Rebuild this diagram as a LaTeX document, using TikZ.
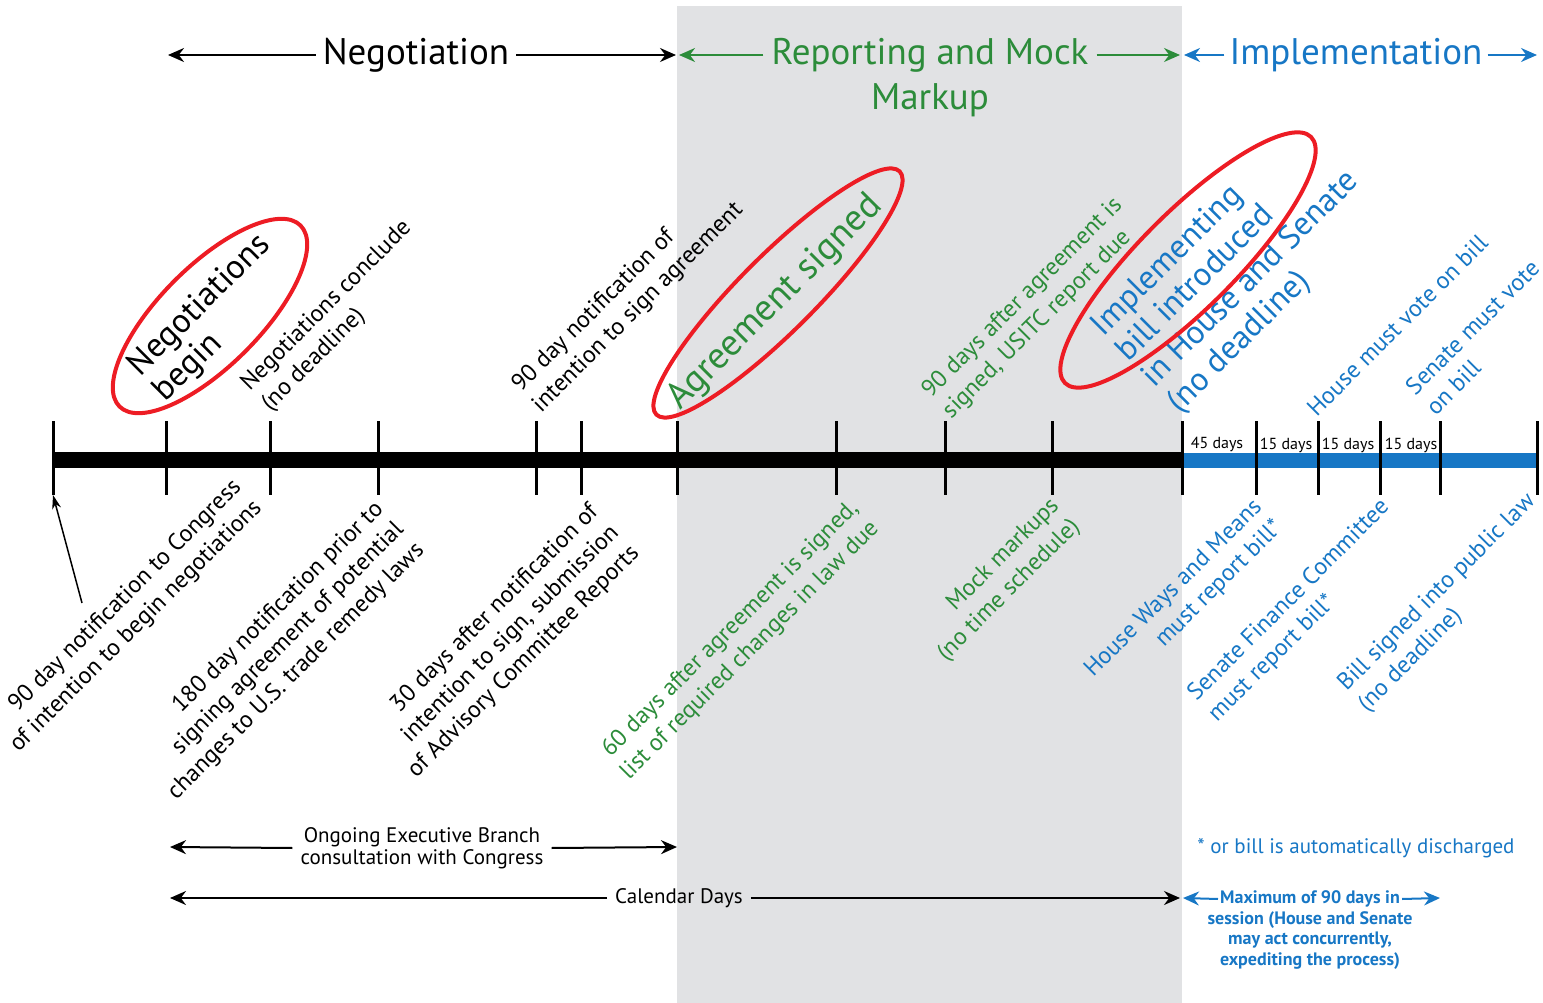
\documentclass[tikz,border=0pt]{standalone}
\usepackage{fontspec}
\setmainfont{PT Sans}
\usetikzlibrary{arrows.meta}

\definecolor{markgray}{RGB}{225,226,228}
\definecolor{repgreen}{RGB}{44,140,58}
\definecolor{impblue}{RGB}{23,119,197}
\definecolor{ringred}{RGB}{237,28,36}

\begin{document}
\begin{tikzpicture}[x=1pt, y=-1pt,
	tick/.style={line width=3pt},
	ring/.style={draw=ringred, line width=4pt},
	span/.style={line width=2pt, -{Stealth[length=16pt, width=14pt]}},
	uptext/.style={rotate=45, inner sep=0pt, anchor=south west, align=left},
	downtext/.style={rotate=45, inner sep=0pt, anchor=north east},
	bigfont/.style={font=\fontsize{34}{36}\selectfont},
	midfont/.style={font=\fontsize{24}{29}\selectfont},
	smallfont/.style={font=\fontsize{21}{22}\selectfont}]
	\useasboundingbox (0,0) rectangle (1543,1003);
	\fill[markgray] (677,6) rectangle (1182,1003);

	% headers
	\node[font=\fontsize{37}{37}\selectfont, inner sep=7pt] (hneg) at (416,55) {Negotiation};
	\coordinate (hnegL) at (168,55);
	\coordinate (hnegR) at (676,55);
	\draw[span] (hneg.west) -- (hnegL);
	\draw[span] (hneg.east) -- (hnegR);
	\node[font=\fontsize{37}{37}\selectfont, text=repgreen, inner sep=8pt] (hrep) at (930,55) {Reporting and Mock};
	\node[font=\fontsize{37}{37}\selectfont, text=repgreen] (hmark) at (930,100) {Markup};
	\coordinate (hrepL) at (679,55);
	\coordinate (hrepR) at (1180,55);
	\draw[span, repgreen] (hrep.west) -- (hrepL);
	\draw[span, repgreen] (hrep.east) -- (hrepR);
	\node[font=\fontsize{37}{37}\selectfont, text=impblue, inner sep=5pt] (himp) at (1356,55) {Implementation};
	\coordinate (himpL) at (1184,55);
	\coordinate (himpR) at (1537,55);
	\draw[span, impblue] (himp.west) -- (himpL);
	\draw[span, impblue] (himp.east) -- (himpR);

	% time line
	\draw[line width=16pt] (53,460) -- (1182,460);
	\draw[impblue, line width=15pt] (1182,460) -- (1537,460);
	\foreach \x [count=\i] in {53,166,270,378,536,581,677,836,945,1052,1182,1256,1318,1380,1440,1537}
		\draw[tick] (\x,421) -- (\x,495) coordinate (t\i);
	\node[font=\fontsize{16}{16}\selectfont] (d45) at (1217,444) {45 days};
	\node[font=\fontsize{16}{16}\selectfont] (d15a) at (1286,445) {15 days};
	\node[font=\fontsize{16}{16}\selectfont] (d15b) at (1348,445) {15 days};
	\node[font=\fontsize{16}{16}\selectfont] (d15c) at (1411,445) {15 days};

	% above the line
	\node[uptext, bigfont] (negbegin) at (171,408) {Negotiations\\begin};
	\node[uptext, midfont] (negend) at (274,416) {Negotiations conclude\\(no deadline)};
	\node[uptext, midfont] (signnote) at (545,417) {90 day notification of\\intention to sign agreement};
	\node[uptext, font=\fontsize{37}{37}\selectfont, text=repgreen] (signed) at (686,416) {Agreement signed};
	\node[uptext, midfont, text=repgreen] (usitc) at (955,423) {90 days after agreement is\\signed, USITC report due};
	\node[uptext, font=\fontsize{33}{36}\selectfont, text=impblue] (billin) at (1185,419) {Implementing\\bill introduced\\in House and Senate\\(no deadline)};
	\node[uptext, midfont, text=impblue] (housevote) at (1317,418) {House must vote on bill};
	\node[uptext, midfont, text=impblue] (senvote) at (1436,417) {Senate must vote\\on bill};

	% red rings
	\draw[ring, rotate around={45:(210,316)}] (210,316) ellipse (128 and 50);
	\draw[ring, rotate around={45:(778,293)}] (778,293) ellipse (172 and 38);
	\draw[ring, rotate around={45:(1188,260)}] (1188,260) ellipse (174 and 48);

	% below the line
	\node[downtext, midfont, align=right] (congnote) at (230,476) {90 day notification to Congress\\of intention to begin negotiations};
	\node[downtext, midfont, align=right] (remedy) at (372,498) {180 day notification prior to\\signing agreement of potential\\changes to U.S. trade remedy laws};
	\node[downtext, midfont, align=right] (advisory) at (587,501) {30 days after notification of\\intention to sign, submission\\of Advisory Committee Reports};
	\node[downtext, midfont, align=right, text=repgreen] (lawlist) at (847,497) {60 days after agreement is signed,\\list of required changes in law due};
	\node[downtext, midfont, align=right, text=repgreen] (mock) at (1048,495) {Mock markups\\(no time schedule)};
	\node[downtext, midfont, align=right, text=impblue] (waysmeans) at (1251,496) {House Ways and Means\\must report bill*};
	\node[downtext, midfont, align=left, text=impblue] (finance) at (1378,496) {Senate Finance Committee\\must report bill*};
	\node[downtext, midfont, align=left, text=impblue] (publaw) at (1524,490) {Bill signed into public law\\(no deadline)};
	\coordinate (notetail) at (82,603);
	\draw[line width=1.5pt, -{Stealth[length=14pt, width=9pt]}] (notetail) -- (t1);

	% bottom spans
	\node[smallfont, align=center, inner sep=8pt] (consult) at (422,848) {Ongoing Executive Branch\\consultation with Congress};
	\coordinate (consultL) at (170,847);
	\coordinate (consultR) at (677,847);
	\draw[span] (consult.west) -- (consultL);
	\draw[span] (consult.east) -- (consultR);
	\node[smallfont, inner sep=8pt] (calendar) at (679,898) {Calendar Days};
	\coordinate (calendarL) at (170,898);
	\coordinate (calendarR) at (1180,898);
	\draw[span] (calendar.west) -- (calendarL);
	\draw[span] (calendar.east) -- (calendarR);
	\node[smallfont, text=impblue] (discharge) at (1356,848) {* or bill is automatically discharged};
	\node[font=\bfseries\fontsize{18}{20.5}\selectfont, text=impblue, inner sep=2pt] (maxdays) at (1310,899) {Maximum of 90 days in};
	\node[font=\bfseries\fontsize{18}{20.5}\selectfont, text=impblue, align=center, anchor=north, inner sep=0pt] (session) at (1310,911) {session (House and Senate\\may act concurrently,\\expediting the process)};
	\coordinate (maxL) at (1183,898);
	\coordinate (maxR) at (1440,898);
	\draw[span, impblue] (maxdays.west) -- (maxL);
	\draw[span, impblue] (maxdays.east) -- (maxR);
\end{tikzpicture}
\end{document}
